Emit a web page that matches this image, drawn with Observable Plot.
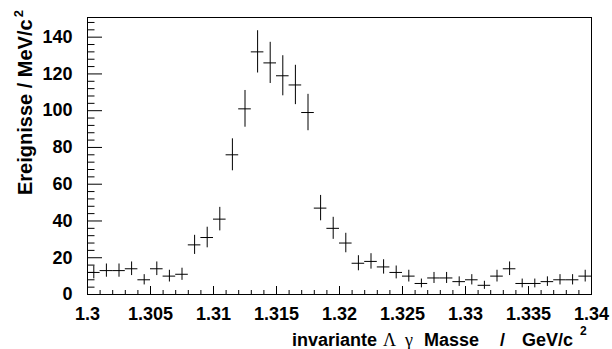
<!DOCTYPE html>
<html>
<head>
<meta charset="utf-8">
<script src="https://cdn.jsdelivr.net/npm/d3@7"></script>
<script src="https://cdn.jsdelivr.net/npm/@observablehq/plot@0.6"></script>
<style>
  body { margin: 0; background: #fff; }
  #chart svg { display: block; }
  #chart svg g[aria-label$="tick label"] { font-size: 18px; font-weight: bold; }
</style>
</head>
<body>
<div id="chart"></div>
<script>
// bin lower edges (GeV/c^2), bin width 0.001
const binLow = [1.300,1.301,1.302,1.303,1.304,1.305,1.306,1.307,1.308,1.309,
                1.310,1.311,1.312,1.313,1.314,1.315,1.316,1.317,1.318,1.319,
                1.320,1.321,1.322,1.323,1.324,1.325,1.326,1.327,1.328,1.329,
                1.330,1.331,1.332,1.333,1.334,1.335,1.336,1.337,1.338,1.339];
const counts = [12,13,13,14,8,14,10,11,27,31,
                41,76,101,132,126,119,114,99,47,36,
                28,17,18,15,12,10,6,9,9,7,
                8,5,10,14,6,6,7,8,8,10];
const errors = [3.5,3.6,3.6,3.7,2.8,3.7,3.2,3.3,5.2,5.6,
                6.4,8.7,10.0,11.5,11.2,10.9,10.7,9.9,6.9,6.0,
                5.3,4.1,4.2,3.9,3.5,3.2,2.4,3.0,3.0,2.6,
                2.8,2.2,3.2,3.7,2.4,2.4,2.6,2.8,2.8,3.2];
const binWidth = 0.001;
const xMajor = [1.3,1.305,1.31,1.315,1.32,1.325,1.33,1.335,1.34];
const xMajorLabels = ["1.3","1.305","1.31","1.315","1.32","1.325","1.33","1.335","1.34"];
const xMinor = binLow.concat([1.34]);
const yMajor = [0,20,40,60,80,100,120,140];
const yMinor = [4,8,12,16,24,28,32,36,44,48,52,56,64,68,72,76,84,88,92,96,104,108,112,116,124,128,132,136,144,148];

const data = binLow.map((lo, i) => ({
  lo, hi: lo + binWidth, c: lo + binWidth / 2,
  y: counts[i], ylo: counts[i] - errors[i], yhi: counts[i] + errors[i]
}));

const font = "'Liberation Sans', Arial, Helvetica, sans-serif";
const symFont = "'Liberation Serif', 'DejaVu Serif', serif";

const plot = Plot.plot({
  width: 612,
  height: 349,
  marginLeft: 87,
  marginRight: 21,
  marginTop: 17,
  marginBottom: 55,
  style: { fontFamily: font, fontSize: "18px", fontWeight: "bold", color: "black", background: "white" },
  x: { domain: [1.3, 1.34] },
  y: { domain: [0, 150.7] },
  marks: [
    Plot.axisX({ ticks: xMinor, tickSize: -4, text: null, label: null }),
    Plot.axisX({ ticks: xMajor, tickSize: -8, tickPadding: 21,
                 tickFormat: (d, i) => xMajorLabels[i], label: null }),
    Plot.axisY({ ticks: yMinor, tickSize: -7.5, text: null, label: null }),
    Plot.axisY({ ticks: yMajor, tickSize: -15, tickPadding: 30, label: null }),
    Plot.ruleY(data, { x1: "lo", x2: "hi", y: "y", stroke: "black", strokeWidth: 1 }),
    Plot.ruleX(data, { x: "c", y1: "ylo", y2: "yhi", stroke: "black", strokeWidth: 1 }),
    Plot.frame({ stroke: "black", strokeWidth: 1 })
  ]
});

const svg = d3.select(plot);
// x axis title
const xt = svg.append("text")
  .attr("y", 346)
  .attr("text-anchor", "start")
  .attr("font-family", font).attr("font-weight", "bold").attr("font-size", 18)
  .attr("fill", "black");
xt.append("tspan").attr("x", 292).text("invariante");
xt.append("tspan").attr("x", 383).attr("font-family", symFont).attr("font-weight", "normal").text("Λ");
xt.append("tspan").attr("x", 405).attr("font-family", symFont).attr("font-weight", "normal").text("γ");
xt.append("tspan").attr("x", 424).text("Masse");
xt.append("tspan").attr("x", 500).text("/");
xt.append("tspan").attr("x", 522).text("GeV/c");
xt.append("tspan").attr("x", 580).attr("font-size", 12).attr("dy", -11).text("2");

// y axis title
const yt = svg.append("text")
  .attr("transform", "translate(32,195) rotate(-90)")
  .attr("text-anchor", "start")
  .attr("font-family", font).attr("font-weight", "bold").attr("font-size", 20)
  .attr("fill", "black");
yt.append("tspan").text("Ereignisse / MeV/c");
yt.append("tspan").attr("font-size", 13).attr("dy", -9).attr("dx", 2).text("2");

document.getElementById("chart").appendChild(plot);
</script>
</body>
</html>
